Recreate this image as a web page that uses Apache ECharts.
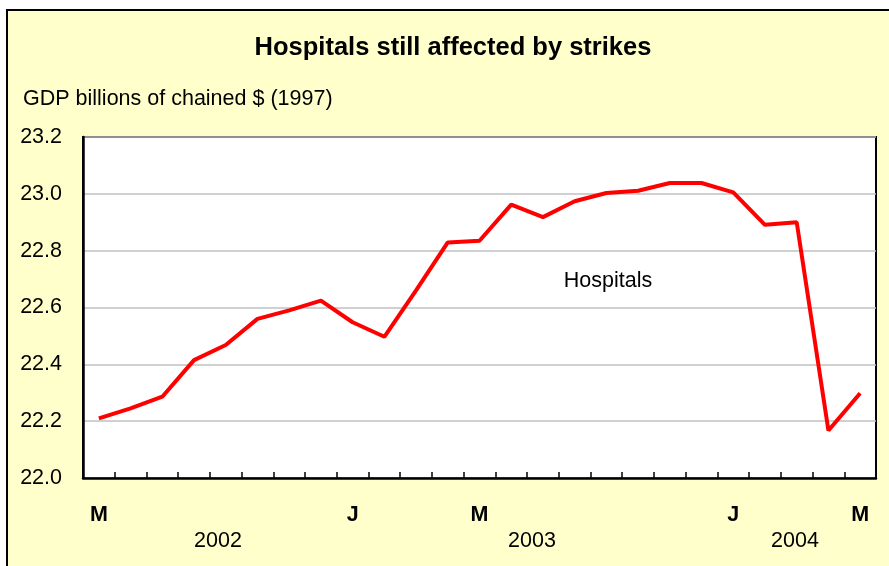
<!DOCTYPE html>
<html>
<head>
<meta charset="utf-8">
<script src="https://cdn.jsdelivr.net/npm/echarts@6/dist/echarts.min.js"></script>
<style>
html,body{margin:0;padding:0;background:#ffffff;}
#chart{width:889px;height:566px;}
</style>
</head>
<body>
<div id="chart"></div>
<script>
// Monthly categories, May 2002 .. May 2004
var months = ['2002-05','2002-06','2002-07','2002-08','2002-09','2002-10','2002-11','2002-12',
  '2003-01','2003-02','2003-03','2003-04','2003-05','2003-06','2003-07','2003-08','2003-09','2003-10','2003-11','2003-12',
  '2004-01','2004-02','2004-03','2004-04','2004-05'];
// Hospitals GDP, billions of chained 1997 dollars
var hospitals = [22.21,22.245,22.286,22.415,22.468,22.56,22.59,22.624,
  22.548,22.497,22.66,22.829,22.835,22.962,22.918,22.974,23.003,23.011,23.038,23.038,
  23.005,22.891,22.90,22.167,22.298];
// Tick labels on the category axis
var tickIndex = [0, 8, 12, 20, 24];
var tickText = ['M', 'J', 'M', 'J', 'M'];
// Year group labels
var yearText = ['2002', '2003', '2004'];
var yAxisTicks = [22.0, 22.2, 22.4, 22.6, 22.8, 23.0, 23.2];

var FONT = '"Liberation Sans", Arial, sans-serif';
var chart = echarts.init(document.getElementById('chart'), null, {renderer: 'canvas'});

var option = {
  animation: false,
  backgroundColor: '#ffffff',
  graphic: [
    {type: 'rect', z: -10, shape: {x: 7, y: 10, width: 900, height: 600},
     style: {fill: '#FFFFCC', stroke: '#000000', lineWidth: 2}},
    {type: 'text', x: 453, y: 48, style: {text: 'Hospitals still affected by strikes', font: 'bold 25.5px ' + FONT,
      fill: '#000', textAlign: 'center', textVerticalAlign: 'middle'}},
    {type: 'text', x: 23, y: 99, style: {text: 'GDP billions of chained $ (1997)', font: '21.5px ' + FONT,
      fill: '#000', textAlign: 'left', textVerticalAlign: 'middle'}},
    {type: 'text', x: 608, y: 281, z: 10, style: {text: 'Hospitals', font: '21.5px ' + FONT,
      fill: '#000', textAlign: 'center', textVerticalAlign: 'middle'}},
    {type: 'text', x: 218, y: 541, style: {text: yearText[0], font: '21.5px ' + FONT,
      fill: '#000', textAlign: 'center', textVerticalAlign: 'middle'}},
    {type: 'text', x: 532, y: 541, style: {text: yearText[1], font: '21.5px ' + FONT,
      fill: '#000', textAlign: 'center', textVerticalAlign: 'middle'}},
    {type: 'text', x: 795, y: 541, style: {text: yearText[2], font: '21.5px ' + FONT,
      fill: '#000', textAlign: 'center', textVerticalAlign: 'middle'}}
  ],
  grid: {left: 83, top: 137, width: 793, height: 341, show: true,
    backgroundColor: '#ffffff', borderColor: '#000000', borderWidth: 2, containLabel: false},
  xAxis: {
    type: 'category', data: months, boundaryGap: true,
    axisLine: {show: true, lineStyle: {color: '#000', width: 2.5}},
    axisTick: {show: true, inside: true, length: 6, interval: 0, lineStyle: {color: '#000', width: 1.5}},
    axisLabel: {
      interval: function (i) { return tickIndex.indexOf(i) >= 0; },
      formatter: function (v, i) { var k = tickIndex.indexOf(i); return k >= 0 ? tickText[k] : ''; },
      margin: 26, color: '#000', fontFamily: FONT, fontWeight: 'bold', fontSize: 21.5
    },
    splitLine: {show: false}
  },
  yAxis: {
    type: 'value', min: yAxisTicks[0], max: yAxisTicks[yAxisTicks.length - 1], interval: 0.2,
    axisLine: {show: true, lineStyle: {color: '#000', width: 2.5}},
    axisTick: {show: false},
    axisLabel: {margin: 21, color: '#000', fontFamily: FONT, fontSize: 21.5,
      formatter: function (v) { return v.toFixed(1); }},
    splitLine: {show: true, lineStyle: {color: '#c0c0c0', width: 1.5}}
  },
  series: [{
    name: 'Hospitals', type: 'line', data: hospitals, symbol: 'none',
    lineStyle: {color: '#ff0000', width: 4}, z: 5
  }]
};
chart.setOption(option);
</script>
</body>
</html>
